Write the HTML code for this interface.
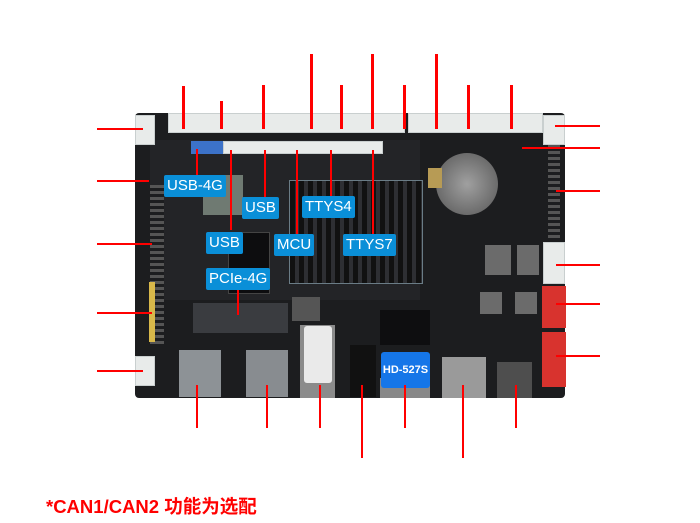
<!DOCTYPE html>
<html><head><meta charset="utf-8"><style>
*{margin:0;padding:0;box-sizing:border-box}
body{width:700px;height:523px;background:#fff;position:relative;overflow:hidden;font-family:"Liberation Sans","Noto Sans CJK SC",sans-serif}
.a{position:absolute}
.r{position:absolute;background:#f00}
.w{position:absolute;background:#e8ebea;border:1px solid #c9cfcf}
.lb{position:absolute;background:#0a8fd8;color:#fff;font-size:15px;line-height:22px;padding:0 3px;border-radius:2px;white-space:nowrap}
</style></head><body>
<div class="a" style="left:135px;top:113px;width:430px;height:285px;background:#1c1d1f;border-radius:4px"></div>
<div class="a" style="left:150px;top:140px;width:270px;height:160px;background:#232427"></div>
<div class="w" style="left:168px;top:113px;width:237px;height:20px"></div>
<div class="w" style="left:408px;top:113px;width:135px;height:20px"></div>
<div class="w" style="left:135px;top:115px;width:20px;height:30px"></div>
<div class="w" style="left:543px;top:115px;width:22px;height:30px"></div>
<div class="w" style="left:543px;top:242px;width:22px;height:42px"></div>
<div class="w" style="left:135px;top:356px;width:20px;height:30px"></div>
<div class="a" style="left:542px;top:286px;width:24px;height:42px;background:#d8332e"></div>
<div class="a" style="left:542px;top:332px;width:24px;height:55px;background:#d8332e"></div>
<div class="a" style="left:191px;top:141px;width:32px;height:13px;background:#3c72c8"></div>
<div class="w" style="left:223px;top:141px;width:160px;height:13px"></div>
<div class="a" style="left:150px;top:185px;width:14px;height:160px;background:repeating-linear-gradient(#555 0 3px,#1c1d1f 3px 6px)"></div>
<div class="a" style="left:149px;top:282px;width:6px;height:60px;background:#d8b84a"></div>
<div class="a" style="left:548px;top:145px;width:12px;height:95px;background:repeating-linear-gradient(#555 0 3px,#1c1d1f 3px 6px)"></div>
<div class="a" style="left:289px;top:180px;width:134px;height:104px;background:repeating-linear-gradient(90deg,#111 0 5px,#2e2f33 5px 9px);border:1px solid #6a7c86"></div>
<div class="a" style="left:436px;top:153px;width:62px;height:62px;border-radius:50%;background:radial-gradient(#a0a0a0,#555)"></div>
<div class="a" style="left:428px;top:168px;width:14px;height:20px;background:#b79b55"></div>
<div class="a" style="left:203px;top:175px;width:40px;height:40px;background:#6f7a72"></div>
<div class="a" style="left:228px;top:232px;width:42px;height:62px;background:#0d0d0f;border:1px solid #444"></div>
<div class="a" style="left:193px;top:303px;width:95px;height:30px;background:#3a3c40"></div>
<div class="a" style="left:485px;top:245px;width:26px;height:30px;background:#6b6b6b"></div>
<div class="a" style="left:517px;top:245px;width:22px;height:30px;background:#6b6b6b"></div>
<div class="a" style="left:480px;top:292px;width:22px;height:22px;background:#6b6b6b"></div>
<div class="a" style="left:515px;top:292px;width:22px;height:22px;background:#6b6b6b"></div>
<div class="a" style="left:380px;top:310px;width:50px;height:35px;background:#0e0e10"></div>
<div class="a" style="left:292px;top:297px;width:28px;height:24px;background:#555"></div>
<div class="a" style="left:179px;top:350px;width:42px;height:47px;background:#8d9296"></div>
<div class="a" style="left:246px;top:350px;width:42px;height:47px;background:#888c90"></div>
<div class="a" style="left:300px;top:325px;width:35px;height:73px;background:#8b8b8b"></div>
<div class="a" style="left:304px;top:326px;width:28px;height:57px;background:#eaeaea;border-radius:3px"></div>
<div class="a" style="left:350px;top:345px;width:26px;height:52px;background:#111"></div>
<div class="a" style="left:380px;top:378px;width:50px;height:20px;background:#888"></div>
<div class="a" style="left:381px;top:352px;width:49px;height:36px;background:#1576e8;color:#fff;font-weight:bold;font-size:11px;line-height:36px;text-align:center;border-radius:3px">HD-527S</div>
<div class="a" style="left:442px;top:357px;width:44px;height:41px;background:#9a9a9a"></div>
<div class="a" style="left:497px;top:362px;width:35px;height:36px;background:#4e4e4e"></div>
<div class="r" style="left:182px;top:86px;width:3px;height:43px"></div>
<div class="r" style="left:220px;top:101px;width:3px;height:28px"></div>
<div class="r" style="left:262px;top:85px;width:3px;height:44px"></div>
<div class="r" style="left:310px;top:54px;width:3px;height:75px"></div>
<div class="r" style="left:340px;top:85px;width:3px;height:44px"></div>
<div class="r" style="left:371px;top:54px;width:3px;height:75px"></div>
<div class="r" style="left:403px;top:85px;width:3px;height:44px"></div>
<div class="r" style="left:435px;top:54px;width:3px;height:75px"></div>
<div class="r" style="left:467px;top:85px;width:3px;height:44px"></div>
<div class="r" style="left:510px;top:85px;width:3px;height:44px"></div>
<div class="r" style="left:196px;top:149px;width:2px;height:26px"></div>
<div class="r" style="left:230px;top:150px;width:2px;height:80px"></div>
<div class="r" style="left:264px;top:150px;width:2px;height:48px"></div>
<div class="r" style="left:296px;top:150px;width:2px;height:84px"></div>
<div class="r" style="left:330px;top:150px;width:2px;height:46px"></div>
<div class="r" style="left:372px;top:150px;width:2px;height:84px"></div>
<div class="r" style="left:237px;top:290px;width:2px;height:25px"></div>
<div class="r" style="left:97px;top:128px;width:46px;height:2px"></div>
<div class="r" style="left:97px;top:180px;width:52px;height:2px"></div>
<div class="r" style="left:97px;top:243px;width:55px;height:2px"></div>
<div class="r" style="left:97px;top:312px;width:55px;height:2px"></div>
<div class="r" style="left:97px;top:370px;width:46px;height:2px"></div>
<div class="r" style="left:555px;top:125px;width:45px;height:2px"></div>
<div class="r" style="left:522px;top:147px;width:78px;height:2px"></div>
<div class="r" style="left:556px;top:190px;width:44px;height:2px"></div>
<div class="r" style="left:556px;top:264px;width:44px;height:2px"></div>
<div class="r" style="left:556px;top:303px;width:44px;height:2px"></div>
<div class="r" style="left:556px;top:355px;width:44px;height:2px"></div>
<div class="r" style="left:196px;top:385px;width:2px;height:43px"></div>
<div class="r" style="left:266px;top:385px;width:2px;height:43px"></div>
<div class="r" style="left:319px;top:385px;width:2px;height:43px"></div>
<div class="r" style="left:361px;top:385px;width:2px;height:73px"></div>
<div class="r" style="left:404px;top:385px;width:2px;height:43px"></div>
<div class="r" style="left:462px;top:385px;width:2px;height:73px"></div>
<div class="r" style="left:515px;top:385px;width:2px;height:43px"></div>
<div class="lb" style="left:164px;top:175px">USB-4G</div>
<div class="lb" style="left:242px;top:197px">USB</div>
<div class="lb" style="left:302px;top:196px">TTYS4</div>
<div class="lb" style="left:206px;top:232px">USB</div>
<div class="lb" style="left:274px;top:234px">MCU</div>
<div class="lb" style="left:343px;top:234px">TTYS7</div>
<div class="lb" style="left:206px;top:268px">PCIe-4G</div>
<div class="a" style="left:46px;top:493px;color:#f00;font-weight:bold;font-size:18.5px;white-space:nowrap">*CAN1/CAN2 功能为选配</div>
</body></html>
